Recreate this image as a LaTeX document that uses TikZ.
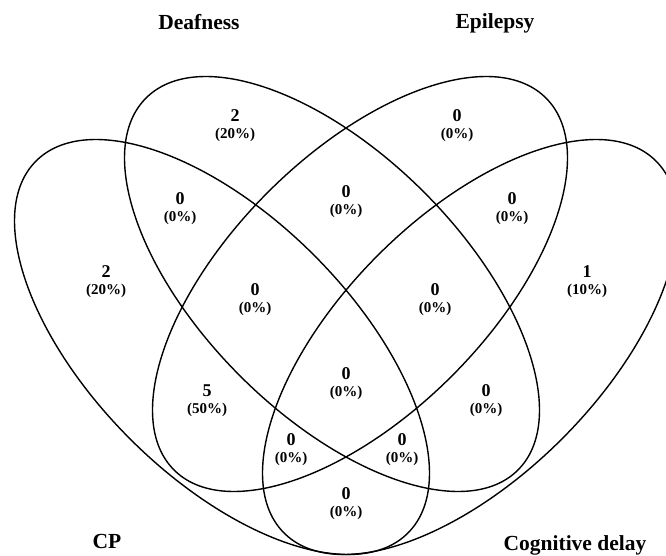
\documentclass[tikz,border=0pt]{standalone}
\usepackage{fontspec}
\setmainfont{Liberation Serif}
\usetikzlibrary{positioning}
\newcommand{\pcsize}{\fontsize{15}{17}\selectfont}
\tikzset{
  venn/.style={draw=black, line width=1.4pt},
  setlbl/.style={font=\fontsize{21.5}{23}\selectfont\bfseries, inner sep=0pt},
  cnt/.style={font=\fontsize{18}{17}\selectfont\bfseries, align=center, inner sep=0pt}
}
\begin{document}
\begin{tikzpicture}[x=1pt, y=-1pt]
  \useasboundingbox (0,0) rectangle (666,556);
  % the four sets
  \draw[venn, rotate around={-45:(222,347)}] (222,347) ellipse [x radius=263pt, y radius=130pt];
  \draw[venn, rotate around={-45:(332,284)}] (332,284) ellipse [x radius=263pt, y radius=130pt];
  \draw[venn, rotate around={45:(360,284)}] (360,284) ellipse [x radius=263pt, y radius=130pt];
  \draw[venn, rotate around={45:(470,347)}] (470,347) ellipse [x radius=263pt, y radius=130pt];
  % set names
  \node[setlbl] (deaf) at (199,22) {Deafness};
  \node[setlbl] (epi) at (495,23) {Epilepsy};
  \node[setlbl] (cp) at (107,541) {CP};
  \node[setlbl] (cog) at (575,545) {Cognitive delay};
  % counts
  \node[cnt] (d) at (235,126) {2\\\pcsize(20\%)};
  \node[cnt] (e) at (457,126) {0\\\pcsize(0\%)};
  \node[cnt] (c) at (106,282) {2\\\pcsize(20\%)};
  \node[cnt] (g) at (587,282) {1\\\pcsize(10\%)};
  \node[cnt] (cd) at (180,209) {0\\\pcsize(0\%)};
  \node[cnt] (de) at (346,202) {0\\\pcsize(0\%)};
  \node[cnt] (eg) at (512,209) {0\\\pcsize(0\%)};
  \node[cnt] (ce) at (255,300) {0\\\pcsize(0\%)};
  \node[cnt] (dg) at (435,300) {0\\\pcsize(0\%)};
  \node[cnt] (cde) at (207,401) {5\\\pcsize(50\%)};
  \node[cnt] (cdeg) at (346,384) {0\\\pcsize(0\%)};
  \node[cnt] (deg) at (486,401) {0\\\pcsize(0\%)};
  \node[cnt] (ceg) at (291,450) {0\\\pcsize(0\%)};
  \node[cnt] (cdg) at (402,450) {0\\\pcsize(0\%)};
  \node[cnt] (cg) at (346,504) {0\\\pcsize(0\%)};
\end{tikzpicture}
\end{document}
